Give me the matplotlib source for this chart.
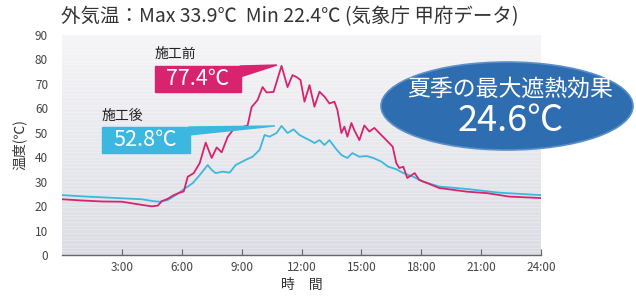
import matplotlib
matplotlib.use("Agg")
import matplotlib.pyplot as plt
import numpy as np
from matplotlib.patches import Ellipse, Polygon, Rectangle

plt.rcParams['font.family'] = ['Noto Sans CJK JP', 'DejaVu Sans']

# データ (時刻[h], 温度[℃])
before_hours = [0, 1, 2, 3, 4, 4.5, 4.8, 5.0, 5.3, 5.6, 5.9, 6.1, 6.3, 6.6, 6.9,
                7.2, 7.5, 7.75, 8.0, 8.3, 8.55, 8.9, 9.3, 9.5, 9.8, 10.05, 10.25,
                10.6, 11.0, 11.3, 11.55, 11.75, 11.95, 12.15, 12.4, 12.65, 12.9,
                13.15, 13.4, 13.65, 13.8, 14.0, 14.15, 14.3, 14.5, 14.65, 14.9,
                15.15, 15.4, 15.65, 15.9, 16.25, 16.57, 16.75, 16.9, 17.1, 17.3,
                17.67, 17.9, 18.3, 18.9, 20.3, 21.3, 22.4, 24.0]
before_temp = [22.8, 22.3, 21.9, 21.8, 20.5, 19.9, 20.2, 22.0, 23.0, 24.5, 25.5,
               26.0, 32.0, 33.5, 37.6, 46.0, 39.7, 44.0, 42.0, 48.3, 51.0, 52.0,
               53.0, 60.5, 63.4, 68.7, 66.5, 66.7, 77.4, 68.7, 73.6, 72.8, 71.6,
               62.7, 69.5, 60.7, 66.8, 64.8, 62.0, 62.7, 59.3, 49.9, 52.5, 48.4,
               54.0, 51.0, 47.0, 53.0, 50.5, 52.0, 49.9, 47.0, 44.3, 37.6, 35.6,
               36.1, 31.5, 33.5, 30.7, 29.4, 27.4, 25.9, 25.3, 23.9, 23.3]

after_hours = [0, 1, 2, 3, 4, 4.6, 4.9, 5.3, 5.7, 6.0, 6.55, 6.9, 7.3, 7.5, 7.7,
               8.05, 8.4, 8.7, 9.2, 9.55, 9.9, 10.15, 10.4, 10.75, 11.0, 11.3,
               11.6, 11.9, 12.15, 12.4, 12.65, 12.9, 13.15, 13.4, 13.7, 14.0,
               14.3, 14.55, 14.9, 15.25, 15.6, 16.0, 16.35, 16.75, 17.1, 17.6,
               18.1, 18.9, 20.3, 21.9, 24.0]
after_temp = [24.5, 24.0, 23.6, 23.2, 22.8, 22.0, 21.8, 22.5, 24.5, 26.3, 29.4,
              32.7, 36.8, 34.8, 33.5, 34.1, 33.7, 36.8, 38.9, 40.2, 43.0, 49.1,
              48.4, 49.9, 52.8, 49.9, 51.4, 49.1, 48.0, 47.0, 45.8, 47.0, 45.0,
              47.0, 43.7, 40.9, 39.7, 41.7, 40.2, 40.5, 39.7, 38.2, 36.1, 35.1,
              33.5, 32.0, 30.0, 28.0, 27.0, 25.5, 24.5]

xticks = [3, 6, 9, 12, 15, 18, 21, 24]
xtick_labels = ['3:00', '6:00', '9:00', '12:00', '15:00', '18:00', '21:00', '24:00']
yticks = list(range(0, 91, 10))

magenta = '#d8236f'
cyan = '#3cb8e0'
gray_txt = '#444444'

fig = plt.figure(figsize=(6.36, 2.99), dpi=100)
ax = fig.add_axes([62 / 636, 1 - 255 / 299, (541 - 62) / 636, (255 - 35) / 299])

# 背景グラデーション
grad = np.linspace(0, 1, 256).reshape(-1, 1)
cmap = matplotlib.colors.LinearSegmentedColormap.from_list('bg', ['#dcdde4', '#f5f5f7'])
ax.imshow(grad, extent=[0, 24, 0, 90], origin='lower', aspect='auto', cmap=cmap, zorder=0)
for yy in np.arange(1.5, 90, 1.5):
    ax.axhline(yy, color='white', lw=0.5, alpha=0.35, zorder=0.5)

ax.plot(before_hours, before_temp, color=magenta, lw=1.3, zorder=3)
ax.plot(after_hours, after_temp, color=cyan, lw=1.3, zorder=2)

ax.set_xlim(0, 24)
ax.set_ylim(0, 90)
ax.set_xticks(xticks)
ax.set_xticklabels(xtick_labels)
ax.set_yticks(yticks)
for s in ['top', 'right', 'left']:
    ax.spines[s].set_visible(False)
ax.spines['bottom'].set_color('#666666')
ax.spines['bottom'].set_linewidth(1.0)
ax.tick_params(axis='x', direction='in', length=4, color='#666666', labelsize=8.5,
               labelcolor=gray_txt, pad=4)
ax.tick_params(axis='y', length=0, labelsize=8.5, labelcolor=gray_txt, pad=10)
ax.set_xlabel('時　間', fontsize=10, color='#333333', labelpad=3)
ax.set_ylabel('温度(℃)', fontsize=10, color='#333333', labelpad=6)

# 注記用オーバーレイ (ピクセル座標)
ov = fig.add_axes([0, 0, 1, 1], facecolor='none')
ov.set_xlim(0, 636)
ov.set_ylim(299, 0)
ov.axis('off')

fig.text(61 / 636, 1 - 17 / 299, '外気温：Max 33.9℃  Min 22.4℃ (気象庁 甲府データ)',
         fontsize=14, color='#333333', va='center', ha='left')

# 施工前
ov.text(155, 54, '施工前', fontsize=10, color='#222222', va='center', ha='left')
ov.add_patch(Rectangle((155, 66), 86, 26, color=magenta, zorder=4))
ov.add_patch(Polygon([(240, 66), (277, 65), (240, 77)], closed=True, color=magenta, zorder=4))
ov.text(198, 79, '77.4℃', fontsize=15.5, color='white', va='center', ha='center', zorder=5)

# 施工後
ov.text(102, 116, '施工後', fontsize=10, color='#222222', va='center', ha='left')
ov.add_patch(Rectangle((102, 127), 88, 26, color=cyan, zorder=4))
ov.add_patch(Polygon([(189, 127), (275, 126), (189, 135)], closed=True, color=cyan, zorder=4))
ov.text(145, 140, '52.8℃', fontsize=15.5, color='white', va='center', ha='center', zorder=5)

# 楕円
ov.add_patch(Ellipse((507, 106), 252, 88, facecolor='#2f6db1', edgecolor='#5a8fc8',
                     lw=1.2, zorder=4))
ov.text(510, 89, '夏季の最大遮熱効果', fontsize=16.5, color='white', ha='center',
        va='center', zorder=5)
ov.text(511, 121, '24.6℃', fontsize=26, color='white', ha='center', va='center', zorder=5)

fig.savefig('out.png', dpi=100)
